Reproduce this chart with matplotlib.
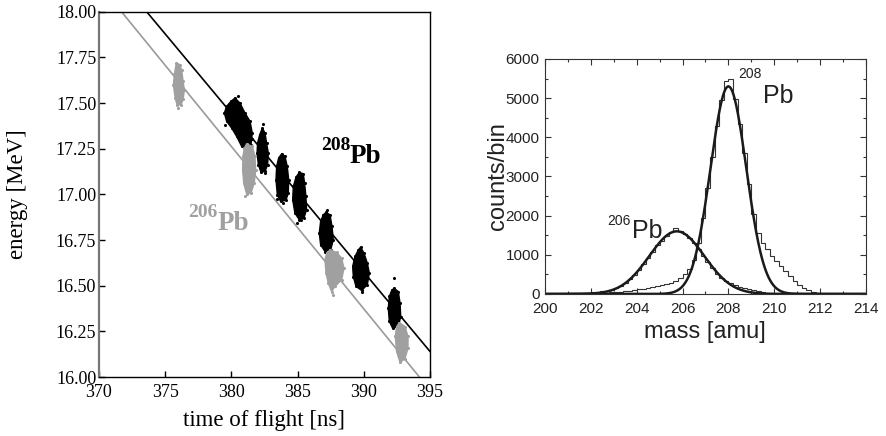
import numpy as np
import matplotlib
matplotlib.use("Agg")
import matplotlib.pyplot as plt

# ---- left panel: energy vs time of flight ----
# cluster outlines (time of flight [ns], energy [MeV]) for each beam energy setting
pb208_t = [
    [380.27, 380.65, 381.03, 381.41, 381.58, 381.48, 381.15, 380.78, 380.40, 380.02, 379.64, 379.47, 379.64, 379.97],
    [382.34, 382.54, 382.66, 382.79, 382.74, 382.54, 382.24, 382.04, 381.94, 381.98, 382.14],
    [383.80, 384.05, 384.22, 384.33, 384.30, 384.12, 383.72, 383.47, 383.37, 383.42, 383.57],
    [385.13, 385.43, 385.53, 385.63, 385.68, 385.48, 385.13, 384.80, 384.63, 384.68, 384.88],
    [387.15, 387.45, 387.60, 387.70, 387.50, 387.07, 386.74, 386.64, 386.74, 386.94],
    [389.76, 390.02, 390.27, 390.42, 390.27, 389.84, 389.41, 389.21, 389.16, 389.34, 389.59],
    [392.28, 392.61, 392.74, 392.79, 392.61, 392.18, 391.93, 391.85, 391.93, 392.11],
]
pb208_E = [
    [17.527, 17.500, 17.445, 17.400, 17.335, 17.272, 17.244, 17.262, 17.317, 17.363, 17.400, 17.445, 17.482, 17.509],
    [17.363, 17.336, 17.281, 17.226, 17.162, 17.126, 17.120, 17.162, 17.226, 17.281, 17.326],
    [17.222, 17.208, 17.153, 17.080, 17.007, 16.967, 16.961, 16.998, 17.080, 17.153, 17.199],
    [17.120, 17.113, 17.062, 16.989, 16.916, 16.870, 16.861, 16.897, 16.970, 17.043, 17.094],
    [16.901, 16.888, 16.824, 16.751, 16.696, 16.687, 16.724, 16.788, 16.852, 16.888],
    [16.711, 16.678, 16.623, 16.569, 16.505, 16.474, 16.496, 16.550, 16.605, 16.660, 16.696],
    [16.486, 16.468, 16.404, 16.331, 16.276, 16.267, 16.304, 16.377, 16.441, 16.474],
]
pb206_t = [
    [375.85, 376.10, 376.25, 376.35, 376.45, 376.35, 376.20, 375.90, 375.75, 375.62, 375.70],
    [381.15, 381.58, 381.78, 381.83, 381.73, 381.48, 381.15, 380.93, 380.85, 380.88, 380.98],
    [387.45, 387.95, 388.33, 388.50, 388.33, 387.83, 387.57, 387.32, 387.15, 387.07, 387.20],
    [392.69, 393.11, 393.34, 393.34, 393.11, 392.74, 392.48, 392.38, 392.48],
]
pb206_E = [
    [17.720, 17.710, 17.680, 17.620, 17.570, 17.520, 17.490, 17.490, 17.530, 17.600, 17.660],
    [17.277, 17.262, 17.208, 17.135, 17.062, 17.007, 17.003, 17.062, 17.135, 17.208, 17.253],
    [16.696, 16.682, 16.651, 16.596, 16.532, 16.496, 16.468, 16.514, 16.569, 16.642, 16.678],
    [16.298, 16.276, 16.222, 16.158, 16.100, 16.080, 16.140, 16.222, 16.276],
]
# stray events outside the dense cores
pb208_stray_t = [380.48, 379.52, 381.58, 382.41, 382.54, 383.87, 383.47, 385.23, 384.93, 387.20, 389.84, 392.28]
pb208_stray_E = [17.536, 17.381, 17.303, 17.387, 17.116, 16.952, 16.974, 16.861, 16.842, 16.912, 16.463, 16.541]
pb206_stray_t = [375.99, 381.03, 387.70]
pb206_stray_E = [17.472, 16.990, 16.450]

# linear fits (end points)
fit208_t = [373.6, 395.0]
fit208_E = [18.0, 16.14]
fit206_t = [371.7, 394.2]
fit206_E = [18.0, 16.0]

# ---- right panel: mass spectrum ----
mass_edges = np.arange(200.0, 214.0001, 0.2)
counts_206 = [5, 5, 8, 10, 12, 15, 18, 22, 26, 32, 40, 50, 65, 85, 110,
              150, 200, 290, 380, 480, 600, 760, 930, 1080, 1240,
              1360, 1480, 1580, 1680, 1620, 1540, 1430, 1290, 1140, 980,
              820, 660, 520, 420, 340, 280, 230, 185, 150, 115,
              90, 68, 50, 36, 25, 18, 12, 8, 5, 3,
              0, 0, 0, 0, 0, 0, 0, 0, 0, 0, 0, 0, 0, 0, 0]
counts_208 = [5, 6, 7, 8, 10, 11, 13, 15, 17, 19,
              22, 26, 30, 36, 42,
              50, 60, 72, 85, 100,
              115, 130, 150, 170, 195,
              220, 250, 290, 340, 420,
              520, 640, 880, 1300, 1950,
              2700, 3500, 4300, 4950, 5430,
              5480, 4980, 4350, 3600, 2800,
              2050, 1550, 1300, 1150, 960,
              850, 720, 580, 450, 330,
              230, 150, 90, 50, 25,
              10, 5, 3, 2, 1,
              0, 0, 0, 0, 0]
# gaussian fit parameters: amplitude, centre, sigma
gauss_206 = (1600.0, 205.75, 1.2)
gauss_208 = (5300.0, 208.0, 0.78)


def gauss(x, a, mu, sig):
    return a * np.exp(-(x - mu) ** 2 / (2 * sig ** 2))


fig = plt.figure(figsize=(8.86, 4.36), dpi=100)
serif = "Liberation Serif"
sans = "Liberation Sans"

# left panel
ax1 = fig.add_axes([0.1117, 0.1353, 0.3736, 0.8379])
ax1.plot(fit206_t, fit206_E, color="#9a9a9a", lw=1.2, zorder=1)
ax1.plot(fit208_t, fit208_E, color="black", lw=1.2, zorder=1)
for t, E in zip(pb208_t, pb208_E):
    ax1.fill(t, E, color="black", lw=1.0, zorder=2)
    ax1.scatter(t, E, s=5, color="black", lw=0, zorder=2)
for t, E in zip(pb206_t, pb206_E):
    ax1.fill(t, E, color="#a0a0a0", lw=1.0, zorder=3)
    ax1.scatter(t, E, s=5, color="#a0a0a0", lw=0, zorder=3)
ax1.scatter(pb208_stray_t, pb208_stray_E, s=5, color="black", lw=0, zorder=2)
ax1.scatter(pb206_stray_t, pb206_stray_E, s=5, color="#a0a0a0", lw=0, zorder=3)

ax1.set_xlim(370, 395)
ax1.set_ylim(16.0, 18.0)
ax1.set_xticks(np.arange(370, 396, 5))
ax1.set_yticks(np.arange(16.0, 18.01, 0.25))
ax1.yaxis.set_major_formatter(matplotlib.ticker.FormatStrFormatter("%.2f"))
ax1.tick_params(direction="in", length=4, width=1, labelsize=13)
ax1.tick_params(axis="x", pad=5)
ax1.tick_params(axis="y", pad=2)
for lab in ax1.get_xticklabels() + ax1.get_yticklabels():
    lab.set_fontfamily(serif)
for s in ax1.spines.values():
    s.set_linewidth(1.0)
ax1.spines["left"].set_color("#777777")
ax1.spines["left"].set_linewidth(1.6)
ax1.set_xlabel("time of flight [ns]", fontsize=16.5, fontfamily=serif)
ax1.set_ylabel("energy [MeV]", fontsize=16.5, fontfamily=serif)
ax1.xaxis.set_label_coords(0.5, -0.09)
ax1.yaxis.set_label_coords(-0.215, 0.5)

ax1.text(388.96, 17.173, "Pb", fontsize=19.5, fontweight="bold", fontfamily=serif,
         ha="left", va="baseline")
ax1.text(388.96, 17.244, "208", fontsize=14, fontweight="bold", fontfamily=serif,
         ha="right", va="baseline")
ax1.text(378.99, 16.805, "Pb", fontsize=19.5, fontweight="bold", fontfamily=serif,
         color="#a0a0a0", ha="left", va="baseline")
ax1.text(378.99, 16.877, "206", fontsize=14, fontweight="bold", fontfamily=serif,
         color="#a0a0a0", ha="right", va="baseline")

# right panel
ax2 = fig.add_axes([0.6151, 0.3257, 0.3623, 0.5390])
xs = np.linspace(200, 214, 600)
ax2.stairs(counts_208, mass_edges, color="#333333", lw=0.8)
ax2.stairs(counts_206, mass_edges, color="#333333", lw=0.8)
ax2.plot(xs, gauss(xs, *gauss_206), color="#1a1a1a", lw=1.8)
ax2.plot(xs, gauss(xs, *gauss_208), color="#1a1a1a", lw=1.8)

ax2.set_xlim(200, 214)
ax2.set_ylim(0, 6000)
ax2.set_xticks(np.arange(200, 215, 2))
ax2.set_xticks(np.arange(200, 215, 1), minor=True)
ax2.set_yticks(np.arange(0, 6001, 1000))
ax2.set_yticks(np.arange(0, 6001, 500), minor=True)
ax2.tick_params(which="both", direction="in", top=True, right=True,
                color="#333333", labelcolor="#222222")
ax2.tick_params(which="major", length=4, width=0.8, labelsize=11, pad=4)
ax2.tick_params(axis="x", which="major", pad=6)
ax2.tick_params(which="minor", length=2, width=0.8)
for lab in ax2.get_xticklabels() + ax2.get_yticklabels():
    lab.set_fontfamily(sans)
for s in ax2.spines.values():
    s.set_linewidth(0.8)
    s.set_color("#333333")
ax2.set_xlabel("mass [amu]", fontsize=17, fontfamily=sans, color="#222222")
ax2.set_ylabel("counts/bin", fontsize=17, fontfamily=sans, color="#222222")
ax2.xaxis.set_label_coords(0.498, -0.115)
ax2.yaxis.set_label_coords(-0.113, 0.5)

ax2.text(209.51, 4885, "Pb", fontsize=18, fontfamily=sans, color="#222222",
         ha="left", va="baseline")
ax2.text(209.47, 5522, "208", fontsize=10, fontfamily=sans, color="#222222",
         ha="right", va="baseline")
ax2.text(203.79, 1425, "Pb", fontsize=18, fontfamily=sans, color="#222222",
         ha="left", va="baseline")
ax2.text(203.75, 1756, "206", fontsize=10, fontfamily=sans, color="#222222",
         ha="right", va="baseline")

fig.savefig("out.png", dpi=100)
